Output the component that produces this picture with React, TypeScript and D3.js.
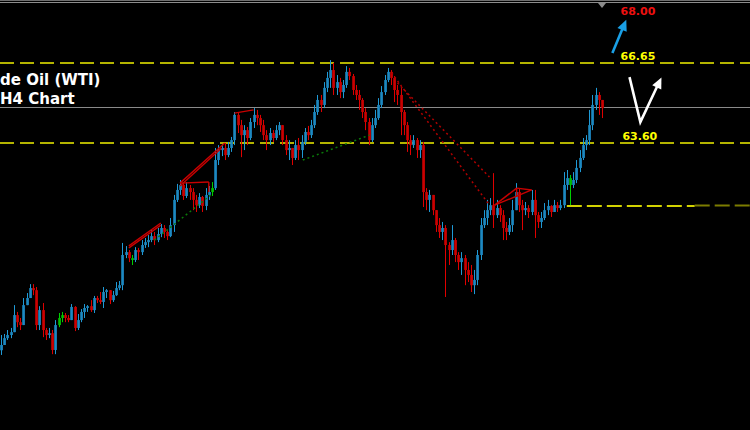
import { useEffect, useRef } from "react";
import * as d3 from "d3";

const WIDTH = 750;
const HEIGHT = 430;

// H4 candles, oldest first. Open of each bar is the previous close.
const FIRST_OPEN = 55.7;
const closes = [
  55.9, 56.16, 56.28, 56.39, 57.04, 56.77, 56.66, 57.42, 57.69, 58.07,
  57.99, 56.66, 57.23, 56.47, 56.28, 56.35, 55.71, 56.66, 56.93, 57.04,
  56.93, 56.85, 57.35, 56.55, 56.85, 57.16, 57.31, 57.38, 57.23, 57.69,
  57.61, 57.54, 57.92, 57.99, 57.61, 57.8, 58.07, 58.18, 59.33, 59.44,
  59.21, 59.14, 59.52, 59.44, 59.71, 59.82, 59.9, 60.05, 59.9, 60.13,
  60.36, 60.21, 60.05, 60.47, 61.43, 61.81, 62.0, 61.58, 61.88, 61.73,
  61.43, 61.23, 61.54, 61.2, 61.62, 61.73, 61.88, 62.95, 63.33, 63.41,
  63.14, 63.41, 63.71, 64.67, 64.28, 63.9, 64.09, 63.79, 64.4, 64.67,
  64.55, 64.28, 63.9, 63.71, 63.98, 63.79, 64.09, 64.28, 63.71, 63.33,
  63.41, 63.03, 63.52, 63.33, 63.64, 64.02, 63.9, 64.28, 64.78, 65.24,
  65.05, 65.7, 66.08, 66.38, 65.7, 65.92, 65.54, 65.81, 66.31, 66.15,
  65.62, 65.43, 65.24, 64.78, 64.4, 63.71, 64.28, 64.55, 65.05, 65.54,
  66.0, 66.31, 66.08, 65.62, 65.43, 64.78, 64.28, 63.71, 63.52, 63.71,
  63.33, 63.52, 61.73, 61.43, 61.62, 61.04, 60.47, 60.21, 60.36, 59.71,
  59.52, 59.9, 59.33, 59.06, 59.21, 58.76, 58.57, 58.18, 58.38, 59.33,
  60.47, 60.74, 61.04, 61.23, 60.85, 61.12, 60.85, 60.36, 60.21, 60.47,
  61.04, 61.73, 61.23, 61.04, 61.12, 60.97, 61.43, 60.85, 60.59, 60.74,
  61.04, 61.2, 60.97, 61.23, 61.12, 61.23, 62.0, 62.26, 62.0, 62.19,
  62.65, 63.03, 63.52, 63.71, 64.28, 65.05, 65.43, 65.24, 64.93,
];
const highs = [
  56.28, 56.32, 56.47, 56.55, 57.42, 57.16, 56.93, 57.69, 57.88, 58.22,
  58.22, 58.11, 57.38, 57.5, 56.55, 56.55, 56.47, 56.85, 57.12, 57.16,
  57.12, 57.04, 57.46, 57.38, 57.08, 57.27, 57.46, 57.42, 57.61, 57.77,
  57.77, 57.92, 58.11, 58.03, 57.96, 57.96, 58.3, 58.34, 59.79, 59.67,
  59.52, 59.33, 59.63, 59.6, 59.9, 59.98, 60.09, 60.28, 60.21, 60.36,
  60.51, 60.47, 60.28, 60.74, 61.62, 62.04, 62.19, 62.07, 62.11, 62.0,
  61.88, 61.62, 61.69, 61.58, 61.88, 61.96, 62.11, 63.41, 63.52, 63.56,
  63.6, 63.64, 63.83, 64.78, 64.74, 64.48, 64.28, 64.21, 64.55, 64.93,
  64.86, 64.67, 64.48, 64.09, 64.17, 64.09, 64.28, 64.4, 64.28, 63.9,
  63.71, 63.33, 63.71, 63.79, 63.9, 64.17, 64.25, 64.48, 65.05, 65.43,
  65.43, 65.92, 66.31, 66.76, 66.65, 66.19, 66.08, 66.0, 66.53, 66.46,
  66.23, 65.81, 65.62, 65.31, 64.93, 64.55, 64.55, 64.86, 65.31, 65.77,
  66.19, 66.46, 66.38, 66.15, 65.81, 65.7, 64.86, 64.4, 63.9, 63.9,
  63.79, 63.71, 63.64, 61.88, 61.81, 61.62, 61.04, 60.74, 60.59, 60.47,
  59.82, 60.47, 59.98, 59.44, 59.44, 59.33, 59.06, 58.95, 58.76, 59.52,
  60.74, 61.04, 61.43, 61.5, 62.45, 61.43, 61.23, 61.04, 60.59, 60.74,
  61.43, 62.07, 61.88, 61.43, 61.35, 61.23, 61.81, 61.81, 60.97, 60.97,
  61.31, 61.43, 61.23, 61.43, 61.35, 61.43, 62.49, 62.57, 62.38, 62.49,
  62.95, 63.33, 63.79, 63.9, 64.86, 65.43, 65.7, 65.54, 65.24,
];
const lows = [
  55.52, 56.01, 56.09, 56.16, 56.47, 56.58, 56.47, 56.93, 57.42, 57.69,
  57.8, 56.47, 56.47, 56.2, 56.09, 56.16, 55.55, 55.55, 56.58, 56.77,
  56.77, 56.77, 56.85, 56.43, 56.47, 56.77, 56.93, 57.16, 57.16, 57.12,
  57.5, 57.46, 57.31, 57.69, 57.46, 57.54, 57.77, 57.99, 57.99, 59.21,
  59.06, 58.95, 59.06, 59.14, 59.33, 59.6, 59.63, 59.82, 59.71, 59.82,
  60.01, 59.98, 59.9, 60.01, 60.21, 61.35, 61.62, 61.43, 61.5, 61.43,
  61.04, 60.97, 61.12, 60.97, 61.04, 61.43, 61.58, 61.81, 62.76, 63.1,
  62.95, 63.06, 63.26, 63.52, 63.98, 63.06, 63.33, 63.52, 63.71, 64.17,
  64.28, 64.02, 63.71, 63.33, 63.52, 63.64, 63.71, 63.9, 63.52, 63.14,
  62.95, 62.76, 62.95, 62.95, 63.03, 63.52, 63.71, 63.79, 64.17, 64.67,
  64.78, 64.93, 65.54, 65.7, 65.43, 65.43, 65.31, 65.31, 65.7, 66.0,
  65.43, 65.24, 64.86, 64.55, 64.09, 63.52, 63.64, 64.17, 64.48, 64.93,
  65.43, 65.92, 65.81, 65.16, 65.05, 63.9, 63.9, 63.26, 63.14, 63.41,
  63.03, 63.03, 61.16, 61.04, 60.97, 60.85, 60.21, 59.98, 59.9, 57.73,
  58.95, 59.33, 59.06, 58.76, 58.57, 58.18, 58.3, 57.92, 57.84, 58.18,
  59.14, 60.36, 60.47, 60.85, 60.36, 60.74, 60.59, 59.9, 59.9, 60.09,
  60.21, 61.04, 60.97, 60.28, 60.85, 60.74, 60.85, 59.98, 60.36, 60.36,
  60.66, 60.85, 60.78, 60.97, 60.97, 61.04, 61.12, 61.81, 61.23, 61.88,
  62.07, 62.49, 62.95, 63.33, 63.52, 64.09, 64.86, 64.67, 64.55,
];
// bars painted green by the indicator
const greenBars = [18, 19, 41, 66, 178];

// horizontal levels
const dashedLevels = [66.65, 63.6];
const currentPrice = 64.97;
const lowerLevel = 61.2;
const lowerLevelFrom = 177;
const lowerLevelDimFrom = 217;
const lastIndex = 234;

// drawn objects: [fromBar, fromPrice, toBar, toPrice]
const redTrendLines = [
  [40, 59.6, 50, 60.47],
  [40, 59.68, 50, 60.55],
  [56, 62.07, 65, 62.11],
  [65, 62.11, 65, 61.73],
  [56, 62.07, 70, 63.6],
  [56, 61.96, 69, 63.41],
  [73, 64.74, 79, 64.86],
  [154.4, 61.23, 161.3, 61.88],
  [154.4, 61.23, 166, 61.81],
  [161.3, 61.88, 166, 61.81],
  [161.3, 61.88, 161.3, 61.54],
];
const redDashedLines = [
  [122.2, 66.27, 152.8, 61.23],
  [124, 65.89, 152.8, 62.3],
];
const greenDottedLines = [
  [48, 59.9, 66, 61.65],
  [94.4, 62.95, 115.3, 63.9],
];

// forecast sketch on the right
const targetLabels = [
  { text: "68.00", bar: 193.8, price: 68.48, kind: "target" },
  { text: "66.65", bar: 193.8, price: 66.76, kind: "level" },
  { text: "63.60", bar: 194.4, price: 63.71, kind: "level" },
];
const bullArrow = [
  [191.25, 67.03],
  [195.6, 68.3],
];
const swingArrow = [
  [196.6, 66.11],
  [200, 64.4],
  [206.6, 66.1],
];

const App = () => {
  const ref = useRef<SVGSVGElement>(null);

  useEffect(() => {
    if (!ref.current) return;
    const svg = d3.select(ref.current);
    svg.selectAll("*").remove();

    const x = d3.scaleLinear().domain([0, 188]).range([1, 602]);
    const y = d3.scaleLinear().domain([52.66, 69.05]).range([HEIGHT, 0]);

    svg
      .append("rect")
      .attr("width", WIDTH)
      .attr("height", HEIGHT)
      .attr("fill", "#000");

    // top border
    svg
      .append("line")
      .attr("x1", 0)
      .attr("x2", WIDTH)
      .attr("y1", 0.5)
      .attr("y2", 0.5)
      .attr("stroke", "#6e6e6e");
    svg
      .append("line")
      .attr("x1", 0)
      .attr("x2", WIDTH)
      .attr("y1", 2.5)
      .attr("y2", 2.5)
      .attr("stroke", "#8c8c8c");

    // chart shift marker
    const sx = Math.round(x(188));
    svg
      .append("path")
      .attr("d", `M${sx - 4},3 L${sx + 4},3 L${sx},8 Z`)
      .attr("fill", "#8c8c8c");

    // levels
    dashedLevels.forEach((p) => {
      svg
        .append("line")
        .attr("x1", 0)
        .attr("x2", WIDTH)
        .attr("y1", Math.round(y(p)))
        .attr("y2", Math.round(y(p)))
        .attr("stroke", "#b4b400")
        .attr("stroke-width", 2)
        .attr("stroke-dasharray", "14,6");
    });

    svg
      .append("line")
      .attr("x1", 0)
      .attr("x2", WIDTH)
      .attr("y1", Math.round(y(currentPrice)) + 0.5)
      .attr("y2", Math.round(y(currentPrice)) + 0.5)
      .attr("stroke", "#8a8a8a");

    svg
      .append("line")
      .attr("x1", x(lowerLevelFrom))
      .attr("x2", x(lowerLevelDimFrom))
      .attr("y1", Math.round(y(lowerLevel)))
      .attr("y2", Math.round(y(lowerLevel)))
      .attr("stroke", "#d2d200")
      .attr("stroke-width", 2)
      .attr("stroke-dasharray", "15,5");
    svg
      .append("line")
      .attr("x1", x(lowerLevelDimFrom))
      .attr("x2", x(lastIndex) + 20)
      .attr("y1", Math.round(y(lowerLevel)) - 0.5)
      .attr("y2", Math.round(y(lowerLevel)) - 0.5)
      .attr("stroke", "#7c7c00")
      .attr("stroke-width", 2)
      .attr("stroke-dasharray", "15,5");

    // candles
    const candles = closes.map((c, i) => {
      const o = i === 0 ? FIRST_OPEN : closes[i - 1];
      return {
        i,
        o,
        c,
        h: Math.max(highs[i], o, c),
        l: Math.min(lows[i], o, c),
      };
    });

    const g = svg.append("g");
    candles.forEach((d) => {
      const up = d.c >= d.o;
      const green = greenBars.includes(d.i);
      const wickColor = green ? "#00d000" : up ? "#1f9ad6" : "#e00000";
      const bodyColor = green ? "#00b000" : up ? "#1a78ad" : "#b80000";
      const cx = Math.round(x(d.i));
      g.append("line")
        .attr("x1", cx + 0.5)
        .attr("x2", cx + 0.5)
        .attr("y1", y(d.h))
        .attr("y2", y(d.l))
        .attr("stroke", wickColor)
        .attr("stroke-width", 1);
      const top = y(Math.max(d.o, d.c));
      const bh = Math.max(1, y(Math.min(d.o, d.c)) - top);
      g.append("rect")
        .attr("x", cx - 0.5)
        .attr("y", top)
        .attr("width", 2.5)
        .attr("height", bh)
        .attr("fill", bodyColor);
      g.append("rect")
        .attr("x", cx - 0.5)
        .attr("y", top)
        .attr("width", 1)
        .attr("height", bh)
        .attr("fill", wickColor);
    });

    // drawn objects
    const drawSegments = (
      segs: number[][],
      color: string,
      width: number,
      dash: string | null
    ) => {
      segs.forEach(([i1, p1, i2, p2]) => {
        const l = svg
          .append("line")
          .attr("x1", x(i1))
          .attr("y1", y(p1))
          .attr("x2", x(i2))
          .attr("y2", y(p2))
          .attr("stroke", color)
          .attr("stroke-width", width);
        if (dash) l.attr("stroke-dasharray", dash);
      });
    };
    drawSegments(redTrendLines, "#c80000", 1.4, null);
    drawSegments(redDashedLines, "#b00000", 1.5, "2,3");
    drawSegments(greenDottedLines, "#0a7a0a", 1.5, "2,3");

    // title (left edge of the label box sits outside the view)
    const title = svg
      .append("g")
      .attr("font-family", "'DejaVu Sans', Verdana, sans-serif")
      .attr("font-weight", "bold")
      .attr("font-size", 15)
      .attr("fill", "#fff");
    title.append("text").attr("x", 0).attr("y", 85).text("de Oil (WTI)");
    title.append("text").attr("x", 0).attr("y", 104).text("H4 Chart");

    // arrows
    const line = d3
      .line<number[]>()
      .x((d) => x(d[0]))
      .y((d) => y(d[1]));
    const shorten = (pts: number[][]) => {
      const a = pts[pts.length - 2];
      const b = pts[pts.length - 1];
      return [a[0] + (b[0] - a[0]) * 0.8, a[1] + (b[1] - a[1]) * 0.8];
    };
    const arrow = (pts: number[][], color: string) => {
      svg
        .append("path")
        .attr("d", line(pts.slice(0, -1).concat([shorten(pts)])))
        .attr("fill", "none")
        .attr("stroke", color)
        .attr("stroke-width", 2.6)
        .attr("stroke-linejoin", "miter");
      const a = pts[pts.length - 2];
      const b = pts[pts.length - 1];
      const ax = x(a[0]);
      const ay = y(a[1]);
      const bx = x(b[0]);
      const by = y(b[1]);
      const ang = Math.atan2(by - ay, bx - ax);
      const len = 11;
      const wid = 5;
      const p1 = [
        bx - len * Math.cos(ang) + wid * Math.sin(ang),
        by - len * Math.sin(ang) - wid * Math.cos(ang),
      ];
      const p2 = [
        bx - len * Math.cos(ang) - wid * Math.sin(ang),
        by - len * Math.sin(ang) + wid * Math.cos(ang),
      ];
      svg
        .append("path")
        .attr("d", `M${bx},${by} L${p1[0]},${p1[1]} L${p2[0]},${p2[1]} Z`)
        .attr("fill", color);
    };
    arrow(bullArrow, "#1aa0e6");
    arrow(swingArrow, "#ffffff");

    // price labels
    svg
      .append("g")
      .attr("font-family", "'DejaVu Sans', Verdana, sans-serif")
      .attr("font-weight", "bold")
      .attr("font-size", 11)
      .selectAll("text")
      .data(targetLabels)
      .join("text")
      .attr("x", (d) => x(d.bar))
      .attr("y", (d) => y(d.price))
      .attr("fill", (d) => (d.kind === "target" ? "#ee1010" : "#ffff00"))
      .text((d) => d.text);
  }, []);

  return (
    <svg
      ref={ref}
      width={WIDTH}
      height={HEIGHT}
      style={{ position: "absolute", left: 0, top: 0, display: "block" }}
    />
  );
};

export default App;
